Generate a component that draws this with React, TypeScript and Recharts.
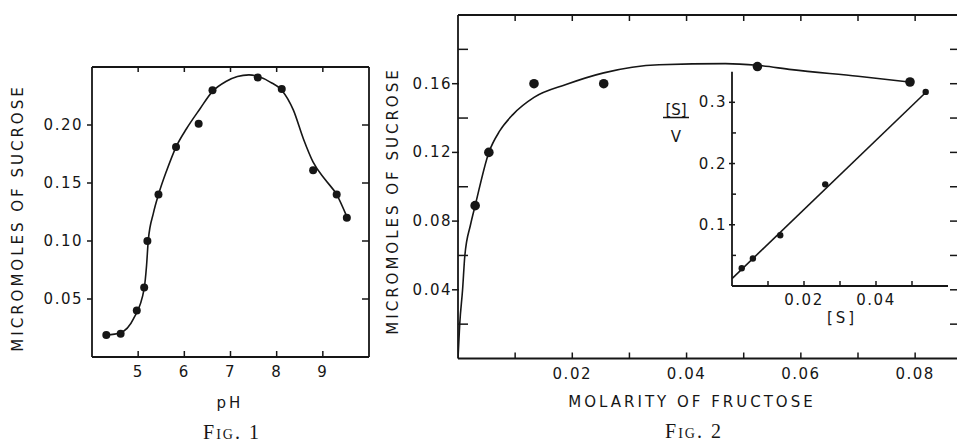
import { ComposedChart, Line, Scatter, XAxis, YAxis, Label } from 'recharts';

const INK = '#161616';
const SANS = '"DejaVu Sans", sans-serif';
const SERIF = '"Liberation Serif", "DejaVu Serif", serif';

// Fig. 1 - sucrose formed vs pH
const phValues = [4.31, 4.62, 4.97, 5.13, 5.2, 5.44, 5.82, 6.31, 6.61, 7.59, 8.11, 8.79, 9.3, 9.52];
const phSucrose = [0.019, 0.02, 0.04, 0.06, 0.1, 0.14, 0.181, 0.201, 0.23, 0.241, 0.231, 0.161, 0.14, 0.12];
const phCurveX = [4.31, 4.62, 4.9, 5.13, 5.18, 5.22, 5.33, 5.44, 5.62, 5.82, 6.05, 6.34, 6.61, 6.9, 7.15, 7.4, 7.62, 7.86, 8.11, 8.36, 8.58, 8.79, 9.05, 9.3, 9.52];
const phCurveY = [0.019, 0.021, 0.033, 0.059, 0.078, 0.101, 0.124, 0.14, 0.161, 0.181, 0.197, 0.214, 0.229, 0.2375, 0.2418, 0.2432, 0.2415, 0.237, 0.23, 0.213, 0.188, 0.168, 0.153, 0.14, 0.121];
const phTicks = [5, 6, 7, 8, 9];
const fig1SucroseTicks = [0.05, 0.1, 0.15, 0.2];

// Fig. 2 - sucrose formed vs molarity of fructose
const fructoseMolarity = [0.003, 0.0054, 0.0133, 0.0255, 0.0524, 0.0791];
const fructoseSucrose = [0.089, 0.12, 0.16, 0.16, 0.17, 0.161];
const fructoseCurveX = [0, 0.0003, 0.0008, 0.0012, 0.0022, 0.003, 0.0054, 0.0073, 0.0096, 0.0133, 0.0189, 0.0255, 0.0352, 0.0468, 0.0524, 0.0584, 0.07, 0.0791];
const fructoseCurveY = [0, 0.02, 0.04, 0.06, 0.078, 0.089, 0.12, 0.1325, 0.142, 0.152, 0.1595, 0.1663, 0.171, 0.1717, 0.1707, 0.1682, 0.1643, 0.1609];
const molarityTicks = [0.01, 0.02, 0.03, 0.04, 0.05, 0.06, 0.07, 0.08];
const fig2SucroseTicks = [0.02, 0.04, 0.06, 0.08, 0.1, 0.12, 0.14, 0.16, 0.18];

// inset - [S]/v vs [S]
const insetS = [0.0027, 0.0058, 0.0134, 0.0259, 0.0538];
const insetSoverV = [0.029, 0.045, 0.083, 0.166, 0.317];
const insetFitX = [0, 0.0538];
const insetFitY = [0.012, 0.316];
const insetSTicks = [0.01, 0.02, 0.03, 0.04, 0.05];
const insetRatioTicks = [0.05, 0.1, 0.15, 0.2, 0.25, 0.3];

const toPoints = (xs: number[], ys: number[]) => xs.map((x, i) => ({ x, y: ys[i] }));
const isMultiple = (v: number, step: number) => Math.abs(v / step - Math.round(v / step)) < 1e-6;

const axisLine = { stroke: INK, strokeWidth: 1.8 };

type Side = 'left' | 'right' | 'top' | 'bottom';
const inward: Record<Side, [number, number]> = { left: [1, 0], right: [-1, 0], top: [0, 1], bottom: [0, -1] };

// tick mark drawn from the axis line: [from, to] along the inward direction, plus an optional label
const axisTick = (side: Side, mark: (v: number) => [number, number], label?: (v: number) => string, gap = 0) =>
  (props: any) => {
    const { x, y, payload } = props;
    const v = payload.value as number;
    const [ux, uy] = inward[side];
    const [a, b] = mark(v);
    const text = label ? label(v) : '';
    return (
      <g>
        <line x1={x + ux * a} y1={y + uy * a} x2={x + ux * b} y2={y + uy * b} stroke={INK} strokeWidth={1.5} />
        {text && (
          <text
            x={x - ux * gap}
            y={y - uy * gap}
            textAnchor={side === 'left' ? 'end' : side === 'right' ? 'start' : 'middle'}
            dominantBaseline="central"
            fill={INK}
            fontSize={15}
            fontFamily={SANS}
            letterSpacing={1.5}
          >
            {text}
          </text>
        )}
      </g>
    );
  };

const title = (text: string, dx: number, dy: number, rotate = false) => (props: any) => {
  const vb = props.viewBox;
  const cx = vb.x + dx;
  const cy = vb.y + dy;
  return (
    <text
      x={cx}
      y={cy}
      textAnchor="middle"
      dominantBaseline="central"
      transform={rotate ? `rotate(-90 ${cx} ${cy})` : undefined}
      fill={INK}
      fontSize={15}
      fontFamily={SANS}
      letterSpacing={3}
    >
      {text}
    </text>
  );
};

// [S] over V, bar centred on (dx, dy)
const fraction = (dx: number, dy: number) => (props: any) => {
  const vb = props.viewBox;
  const cx = vb.x + dx;
  const cy = vb.y + dy;
  return (
    <g fill={INK} fontSize={15} fontFamily={SANS}>
      <text x={cx} y={cy - 3} textAnchor="middle">[S]</text>
      <line x1={cx - 13} x2={cx + 13} y1={cy} y2={cy} stroke={INK} strokeWidth={1.5} />
      <text x={cx} y={cy + 24} textAnchor="middle">V</text>
    </g>
  );
};

const dot = (r: number) => (props: any) => <circle cx={props.cx} cy={props.cy} r={r} fill={INK} />;

const plain = { tickLine: false as const, tickSize: 0, tickMargin: 0, interval: 0 as const, allowDataOverflow: true };

function PhChart() {
  return (
    <ComposedChart width={380} height={442} margin={{ top: 67, right: 11, bottom: 0, left: 0 }}>
      <XAxis {...plain} xAxisId="b" type="number" dataKey="x" domain={[4, 10]} ticks={phTicks} height={85}
        axisLine={axisLine} tick={axisTick('bottom', () => [0, 6], (v) => String(v), 15)}>
        <Label content={title('pH', 138, 46)} />
      </XAxis>
      <XAxis {...plain} xAxisId="t" orientation="top" mirror height={1} type="number" dataKey="x" domain={[4, 10]}
        ticks={phTicks} axisLine={axisLine} tick={axisTick('top', () => [0, 5])} />
      <YAxis {...plain} yAxisId="l" type="number" dataKey="y" domain={[0, 0.25]} ticks={fig1SucroseTicks} width={92}
        axisLine={axisLine} tick={axisTick('left', () => [-5, 0], (v) => v.toFixed(2), 9)}>
        <Label content={title('MICROMOLES OF SUCROSE', 18, 151, true)} />
      </YAxis>
      <YAxis {...plain} yAxisId="r" orientation="right" mirror width={1} type="number" dataKey="y" domain={[0, 0.25]}
        ticks={fig1SucroseTicks} axisLine={axisLine} tick={axisTick('right', () => [0, 7])} />
      <Line xAxisId="t" yAxisId="r" data={toPoints(phCurveX, phCurveY)} dataKey="y" type="monotone"
        stroke={INK} strokeWidth={1.6} dot={false} activeDot={false} isAnimationActive={false} />
      <Scatter xAxisId="b" yAxisId="l" data={toPoints(phValues, phSucrose)} shape={dot(4)} isAnimationActive={false} />
    </ComposedChart>
  );
}

function FructoseChart() {
  return (
    <ComposedChart width={580} height={442} margin={{ top: 15, right: 2, bottom: 0, left: 0 }}>
      <XAxis {...plain} xAxisId="b" type="number" dataKey="x" domain={[0, 0.0875]} ticks={molarityTicks} height={83.5}
        axisLine={axisLine}
        tick={axisTick('bottom', () => [0, 6], (v) => (isMultiple(v, 0.02) ? v.toFixed(2) : ''), 15)}>
        <Label content={title('MOLARITY OF FRUCTOSE', 234, 43)} />
      </XAxis>
      <XAxis {...plain} xAxisId="t" orientation="top" mirror height={1} type="number" dataKey="x" domain={[0, 0.0875]}
        ticks={molarityTicks} axisLine={axisLine} tick={axisTick('top', () => [0, 6])} />
      <YAxis {...plain} yAxisId="l" type="number" dataKey="y" domain={[0, 0.2]} ticks={fig2SucroseTicks} width={78}
        axisLine={axisLine}
        tick={axisTick('left', (v) => (isMultiple(v, 0.04) ? [-6, 1] : [0, 10]),
          (v) => (isMultiple(v, 0.04) ? v.toFixed(2) : ''), 6)}>
        <Label content={title('MICROMOLES OF SUCROSE', 13, 186, true)} />
      </YAxis>
      <YAxis {...plain} yAxisId="r" orientation="right" mirror width={1} type="number" dataKey="y" domain={[0, 0.2]}
        ticks={fig2SucroseTicks} axisLine={axisLine} tick={axisTick('right', () => [0, 8])} />
      <Line xAxisId="t" yAxisId="r" data={toPoints(fructoseCurveX, fructoseCurveY)} dataKey="y" type="monotone"
        stroke={INK} strokeWidth={1.6} dot={false} activeDot={false} isAnimationActive={false} />
      <Scatter xAxisId="b" yAxisId="l" data={toPoints(fructoseMolarity, fructoseSucrose)} shape={dot(4.8)}
        isAnimationActive={false} />
    </ComposedChart>
  );
}

function InsetChart() {
  return (
    <ComposedChart width={297} height={300} margin={{ top: 31.7, right: 9, bottom: 0, left: 0 }}>
      <XAxis {...plain} xAxisId="b" type="number" dataKey="x" domain={[0, 0.06]} ticks={insetSTicks} height={54}
        axisLine={axisLine}
        tick={axisTick('bottom', () => [0, 5], (v) => (isMultiple(v, 0.02) ? v.toFixed(2) : ''), 14)}>
        <Label content={title('[S]', 110, 32)} />
      </XAxis>
      <YAxis {...plain} yAxisId="l" type="number" dataKey="y" domain={[0, 0.35]} ticks={insetRatioTicks} width={72}
        axisLine={axisLine}
        tick={axisTick('left', (v) => (isMultiple(v, 0.1) ? [-3, 3] : [0, 4]),
          (v) => (isMultiple(v, 0.1) ? v.toFixed(1) : ''), 5)}>
        <Label content={fraction(16, 45.8)} />
      </YAxis>
      <Line xAxisId="b" yAxisId="l" data={toPoints(insetFitX, insetFitY)} dataKey="y" type="linear"
        stroke={INK} strokeWidth={1.6} dot={false} activeDot={false} isAnimationActive={false} />
      <Scatter xAxisId="b" yAxisId="l" data={toPoints(insetS, insetSoverV)} shape={dot(3.2)} isAnimationActive={false} />
    </ComposedChart>
  );
}

const caption = { position: 'absolute' as const, width: 120, textAlign: 'center' as const, fontFamily: SERIF,
  fontSize: 20, lineHeight: '20px', fontVariant: 'small-caps', letterSpacing: 2, color: INK };

export default function App() {
  return (
    <div style={{ position: 'absolute', left: 0, top: 0, width: 957, height: 442, overflow: 'hidden', background: '#fff' }}>
      <div style={{ position: 'absolute', left: 0, top: 0 }}>
        <PhChart />
      </div>
      <div style={{ position: 'absolute', left: 380, top: 0 }}>
        <FructoseChart />
      </div>
      <div style={{ position: 'absolute', left: 660, top: 40 }}>
        <InsetChart />
      </div>
      <div style={{ ...caption, left: 172, top: 422 }}>Fig. 1</div>
      <div style={{ ...caption, left: 634, top: 421 }}>Fig. 2</div>
    </div>
  );
}
